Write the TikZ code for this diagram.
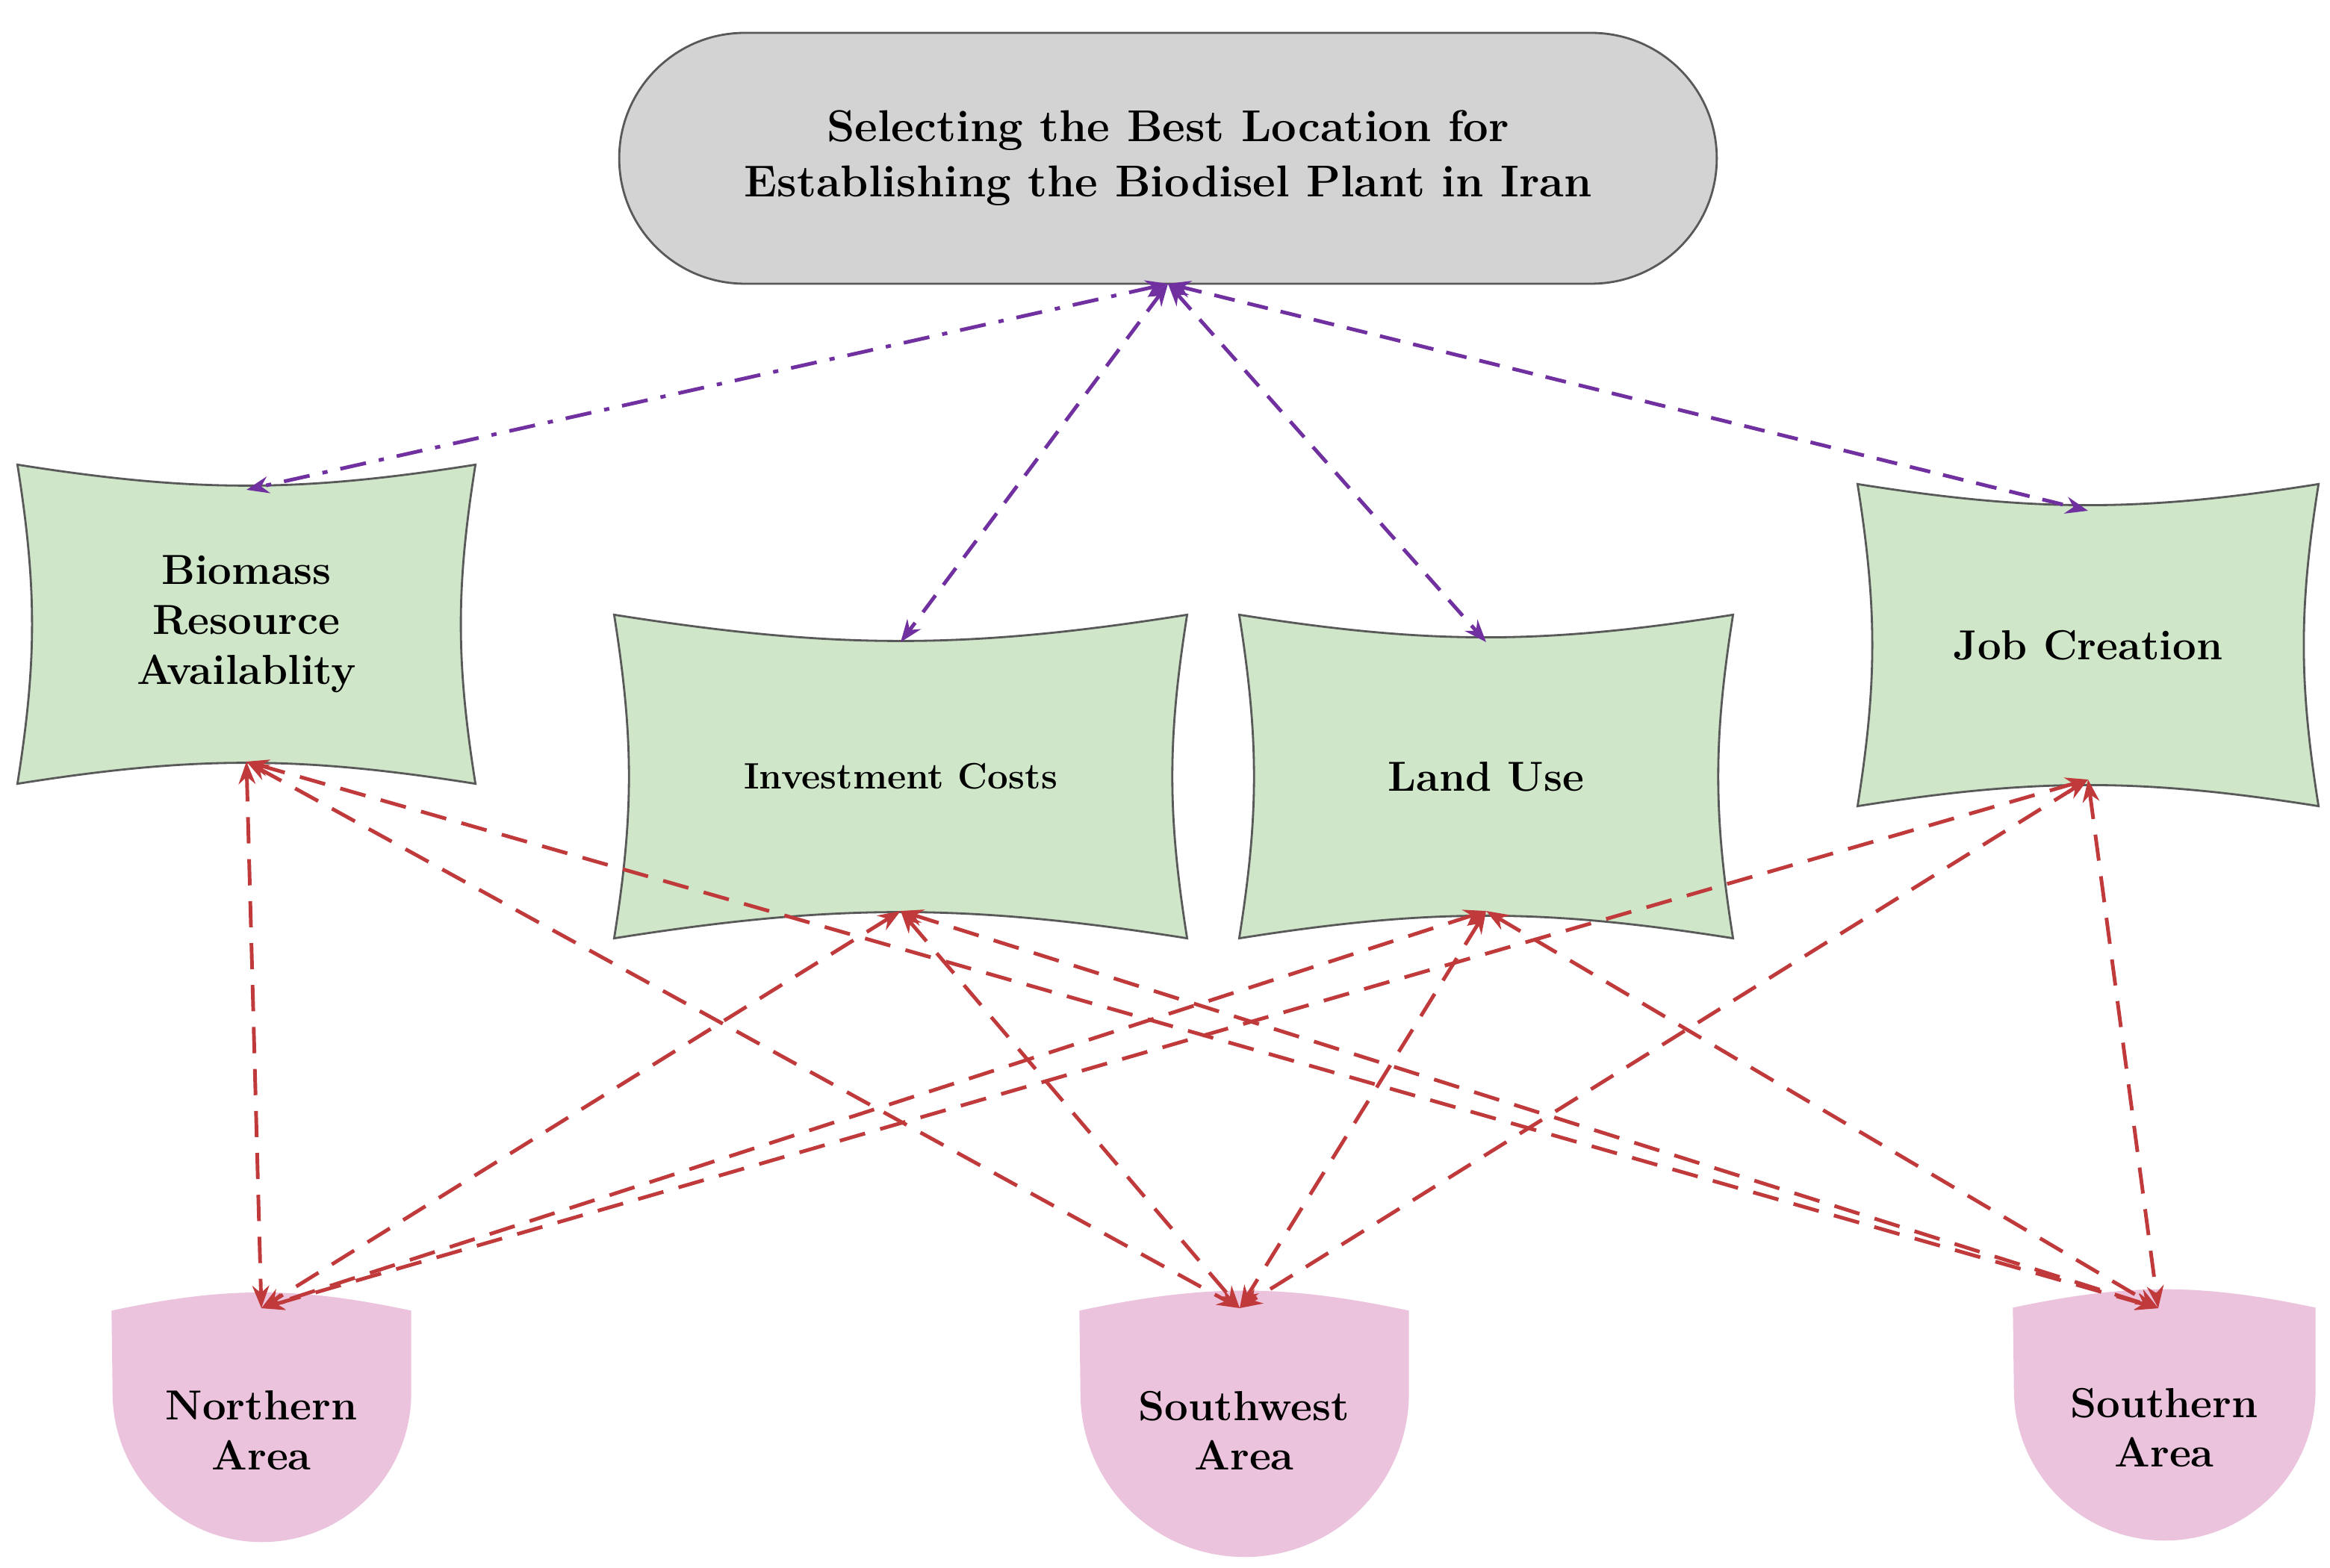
\documentclass[tikz,border=0pt]{standalone}
\usetikzlibrary{arrows.meta,calc}
\definecolor{crit}{HTML}{CFE6C9}
\definecolor{area}{HTML}{EBC3DD}
\definecolor{topc}{HTML}{D3D3D3}
\definecolor{blu}{HTML}{7030A0}
\definecolor{rd}{HTML}{C0393B}
\begin{document}
\begin{tikzpicture}[x=0.02cm,y=-0.02cm,
  txt/.style={font=\bfseries\fontsize{16}{19}\selectfont,align=center,text=black},
  hid/.style={draw=none,inner sep=0pt},
  cshape/.style={draw=gray!70!black,line width=0.8pt,fill=crit},
  ashape/.style={draw=none,fill=area},
  pl/.style={blu,line width=1.4pt,dash pattern=on 10pt off 5pt on 2pt off 5pt,{Stealth[length=3mm]}-{Stealth[length=3mm]}},
  pd/.style={blu,line width=1.4pt,dash pattern=on 8pt off 5pt,{Stealth[length=3mm]}-{Stealth[length=3mm]}},
  rl/.style={rd,line width=1.4pt,dash pattern=on 10pt off 6pt,{Stealth[length=3mm]}-{Stealth[length=3mm]}}]
\useasboundingbox (0,0) rectangle (1560,1050);
\fill[white] (0,0) rectangle (1560,1050);
% top
\node[draw=gray!70!black,line width=0.8pt,fill=topc,rounded corners=1.68cm,minimum width=14.7cm,minimum height=3.36cm,txt,font=\bfseries\fontsize{17}{21}\selectfont] (top) at (782,106) {Selecting the Best Location for\\Establishing the Biodisel Plant in Iran};
% criteria
\newcommand\concv[4]{%
  \node[hid,minimum width=#3,minimum height=#4] (#1) at (#2) {};
  \path[cshape] (#1.north west) to[bend right=9] (#1.north east) to[bend right=9] (#1.south east) to[bend right=9] (#1.south west) to[bend right=9] cycle;}
\concv{bio}{165,418}{6.12cm}{4.26cm}
\concv{inv}{603,520}{7.66cm}{4.32cm}
\concv{lan}{995,520}{6.6cm}{4.32cm}
\concv{job}{1398,432}{6.16cm}{4.3cm}
\node[txt] (biot) at (bio) {Biomass\\Resource\\Availablity};
\node[txt,font=\bfseries\fontsize{14}{17}\selectfont] (invt) at (inv) {Investment Costs};
\node[txt] (lant) at (lan) {Land Use};
\node[txt] (jobt) at (job) {Job Creation};
% areas
\newcommand\ar[3]{%
  \node[hid,minimum width=#3,minimum height=3.2cm] (#1) at (#2) {};
  \path[ashape] (#1.north west) to[bend left=12] (#1.north east) -- ++(0,-1.1cm) arc[start angle=0,end angle=-180,radius=0.5*#3] -- cycle;}
\ar{nor}{175,958}{4cm}
\ar{sw}{833,958}{4.4cm}
\ar{sou}{1449,956}{4.04cm}
\node[txt] (nort) at (175,958) {Northern\\Area};
\node[txt] (swt) at (833,958) {Southwest\\Area};
\node[txt] (sout) at (1449,956) {Southern\\Area};
% anchor points
\coordinate (t0) at (782,190);
\coordinate (b1) at (165,328); \coordinate (b2) at (165,510);
\coordinate (i1) at (603,430); \coordinate (i2) at (603,610);
\coordinate (l1) at (995,430); \coordinate (l2) at (995,610);
\coordinate (j1) at (1398,342); \coordinate (j2) at (1398,522);
\coordinate (n1) at (175,876); \coordinate (s1) at (830,876); \coordinate (u1) at (1445,876);
\draw[pl] (t0) -- (b1);
\draw[pd] (t0) -- (i1);
\draw[pd] (t0) -- (l1);
\draw[pd] (t0) -- (j1);
\foreach \a in {b2,i2,l2,j2}{
  \foreach \b in {n1,s1,u1}{
    \draw[rl] (\a) -- (\b);}}
\end{tikzpicture}
\end{document}
